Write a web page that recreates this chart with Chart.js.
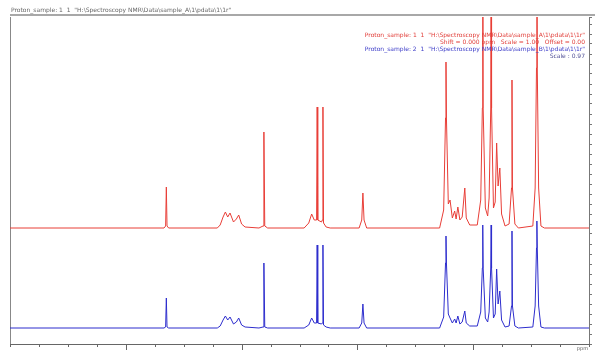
<!DOCTYPE html>
<html><head><meta charset="utf-8">
<script src="https://cdn.jsdelivr.net/npm/chart.js@4"></script>
<style>html,body{margin:0;padding:0;background:#fff;overflow:hidden}canvas{display:block}</style>
</head><body>
<canvas id="c" width="595" height="351"></canvas>
<script>
// chemical shift (ppm) and intensity
const redPpm = [10.0,7.34,7.312,7.30,7.288,7.26,6.42,6.37,6.32,6.28,6.24,6.20,6.14,6.09,6.05,6.00,5.94,5.70,5.63,5.615,5.60,5.55,4.92,4.84,4.79,4.745,4.705,4.695,4.685,4.62,4.605,4.595,4.585,4.54,4.47,3.97,3.925,3.905,3.885,3.84,2.58,2.51,2.478,2.47,2.462,2.43,2.40,2.36,2.32,2.295,2.265,2.23,2.19,2.145,2.12,2.06,1.93,1.87,1.842,1.835,1.828,1.79,1.75,1.725,1.697,1.69,1.683,1.65,1.62,1.595,1.57,1.54,1.51,1.45,1.38,1.338,1.33,1.322,1.28,1.22,0.97,0.93,0.907,0.90,0.893,0.87,0.83,0.77,0.0];
const redIntensity = [0,0,2,41,2,0,0,3,11,16,11,15,6,9,13,4,1,0,2,96,2,0,0,5,14,8,8,121,8,6,8,121,5,1,0,0,8,35,8,0,0,18,110,166,110,24,28,10,17,9,21,8,11,40,10,3,3,28,120,360,120,20,12,30,120,360,120,20,26,85,42,60,14,2,4,40,148,40,4,0,2,40,160,360,160,40,2,0,0];
const bluePpm = redPpm;
const blueIntensity = [0,0,1,30,1,0,0,2,8,12,8,11,4,6,10,3,1,0,1,65,1,0,0,3,10,5,5,83,5,4,5,83,3,1,0,0,5,24,5,0,0,11,65,92,65,14,10,5,9,5,12,4,6,17,5,2,2,16,60,103,60,10,6,16,60,103,60,10,14,59,24,37,8,1,2,22,97,22,2,0,1,22,80,107,80,22,1,0,0];
const majorTicks = [8,6,4,2];
const titleText = 'Proton_sample: 1  1  "H:\\Spectroscopy NMR\\Data\\sample_A\\1\\pdata\\1\\1r"';
const legendLines = [
  'Proton_sample: 1  1  "H:\\Spectroscopy NMR\\Data\\sample_A\\1\\pdata\\1\\1r"',
  'Shift = 0.000 ppm   Scale = 1.00   Offset = 0.00',
  'Proton_sample: 2  1  "H:\\Spectroscopy NMR\\Data\\sample_B\\1\\pdata\\1\\1r"',
  'Scale : 0.97'
];

const RED_BASE = 116, BLUE_BASE = 16, Y_MAX = 327;
const toPts = (xs, ys, base) => xs.map((x, i) => ({x, y: ys[i] + base}));

const deco = {
  id: 'deco',
  afterDraw(chart) {
    const ctx = chart.ctx, a = chart.chartArea, xs = chart.scales.x;
    ctx.save();
    ctx.fillStyle = '#a8a8a8';
    ctx.fillRect(a.left, 14, 595 - a.left, 2);
    ctx.strokeStyle = '#666'; ctx.lineWidth = 1;
    xs.ticks.forEach(t => {
      const px = Math.round(xs.getPixelForValue(t.value)) + 0.5;
      const len = majorTicks.includes(t.value) ? 6 : 3;
      ctx.beginPath(); ctx.moveTo(px, a.bottom); ctx.lineTo(px, a.bottom + len); ctx.stroke();
    });
    ctx.font = '6px "DejaVu Sans"';
    ctx.textBaseline = 'middle';
    ctx.fillStyle = '#666'; ctx.textAlign = 'left';
    ctx.fillText(titleText, 11, 10);
    ctx.textAlign = 'right';
    const cols = ['rgb(225,60,55)', 'rgb(225,60,55)', 'rgb(60,60,200)', 'rgb(80,80,150)'];
    legendLines.forEach((s, i) => { ctx.fillStyle = cols[i]; ctx.fillText(s, 585, 35 + i * 7); });
    ctx.font = '5px "DejaVu Sans"';
    ctx.fillStyle = '#666';
    ctx.fillText('ppm', 588, 349);
    ctx.restore();
  }
};

new Chart(document.getElementById('c'), {
  type: 'scatter',
  data: { datasets: [
    { data: toPts(redPpm, redIntensity, RED_BASE), showLine: true, borderColor: 'rgb(232,62,55)', borderWidth: 1, pointRadius: 0, tension: 0 },
    { data: toPts(bluePpm, blueIntensity, BLUE_BASE), showLine: true, borderColor: 'rgb(45,45,205)', borderWidth: 1, pointRadius: 0, tension: 0 }
  ]},
  options: {
    responsive: false, animation: false, events: [],
    layout: { padding: { top: 17, left: 0, right: 0, bottom: 0 } },
    plugins: { legend: { display: false }, tooltip: { enabled: false }, title: { display: false } },
    scales: {
      x: { type: 'linear', reverse: true, min: 0, max: 10,
        grid: { display: false }, border: { display: true, color: '#666', width: 1 },
        ticks: { stepSize: 0.5, autoSkip: false, maxRotation: 0, padding: 5, color: '#777', font: { size: 7 },
          callback: v => majorTicks.includes(v) ? String(v) : '' },
        afterFit: s => { s.height = 7; } },
      y: { position: 'left', min: 0, max: Y_MAX,
        grid: { display: false }, border: { display: true, color: '#888', width: 1 },
        ticks: { display: false }, afterFit: s => { s.width = 10; } },
      yR: { position: 'right', min: 0, max: Y_MAX,
        grid: { display: true, drawOnChartArea: false, drawTicks: true, tickLength: 3, color: '#777' },
        border: { display: true, color: '#777', width: 1 },
        ticks: { stepSize: 10, display: true, color: 'rgba(0,0,0,0)', font: { size: 5 } },
        afterFit: s => { s.width = 6; } }
    }
  },
  plugins: [deco]
});
</script>
</body></html>
